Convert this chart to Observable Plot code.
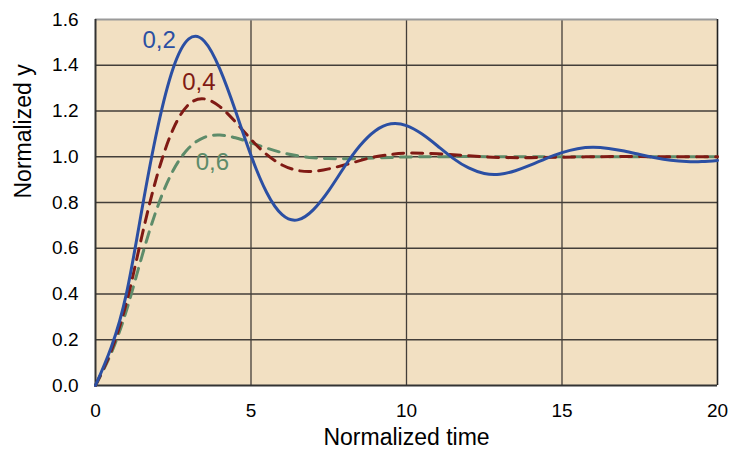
<!DOCTYPE html>
<html>
<head>
<meta charset="utf-8">
<script src="https://cdn.jsdelivr.net/npm/d3@7"></script>
<script src="https://cdn.jsdelivr.net/npm/@observablehq/plot@0.6"></script>
<style>
  html, body { margin: 0; padding: 0; background: #ffffff; }
  #chart { width: 729px; height: 450px; }
</style>
</head>
<body>
<div id="chart"></div>
<script>
// Time samples
const tFine = [0, 0.5, 1, 1.5, 2, 2.5, 3, 3.5, 4, 4.5, 5, 5.5, 6, 6.5, 7, 7.5, 8, 8.5, 9, 9.5, 10,
               10.5, 11, 11.5, 12, 12.5, 13, 13.5, 14, 14.5, 15, 15.5, 16, 16.5, 17, 17.5, 18, 18.5, 19, 19.5, 20];
const tCoarse = [0, 0.5, 1, 1.5, 2, 2.5, 3, 3.5, 4, 4.5, 5, 5.5, 6, 6.5, 7, 7.5, 8, 8.5, 9, 9.5, 10,
                 11, 12, 13, 14, 15, 16, 17, 18, 19, 20];

// Damping 0,2 (solid blue)
const y02 = [0, 0.165, 0.405, 0.775, 1.128, 1.388, 1.515, 1.505, 1.383, 1.201, 1.006,
             0.845, 0.747, 0.724, 0.768, 0.852, 0.955, 1.048, 1.114, 1.144, 1.136,
             1.099, 1.047, 0.993, 0.951, 0.927, 0.924, 0.939, 0.964, 0.993, 1.018,
             1.035, 1.041, 1.036, 1.025, 1.010, 0.996, 0.985, 0.979, 0.979, 0.984];
// Damping 0,4 (dashed dark red)
const y04 = [0, 0.150, 0.365, 0.658, 0.927, 1.122, 1.229, 1.253, 1.219, 1.152, 1.076,
             1.010, 0.964, 0.940, 0.936, 0.947, 0.964, 0.983, 1.000, 1.010, 1.016,
             1.013, 1.004, 0.997, 0.996, 0.998, 1.000, 1.001, 1.000, 1.000, 1.000];
// Damping 0,6 (dashed green)
const y06 = [0, 0.140, 0.330, 0.568, 0.783, 0.941, 1.038, 1.085, 1.095, 1.083, 1.061,
             1.038, 1.018, 1.004, 0.996, 0.992, 0.991, 0.992, 0.995, 0.997, 0.999,
             1.000, 1.001, 1.000, 1.000, 1.000, 1.000, 1.000, 1.000, 1.000, 1.000];

const xTicks = [0, 5, 10, 15, 20];
const yTicks = [0, 0.2, 0.4, 0.6, 0.8, 1.0, 1.2, 1.4, 1.6];

const seriesLabels = ["0,2", "0,4", "0,6"];
const labelX = [1.51, 2.79, 3.22];
const labelY = [1.475, 1.291, 0.943];
const colors = ["#2b4fa3", "#801a14", "#5e8c6a"];

const d02 = tFine.map((t, i) => ({t, y: y02[i]}));
const d04 = tCoarse.map((t, i) => ({t, y: y04[i]}));
const d06 = tCoarse.map((t, i) => ({t, y: y06[i]}));
const labels = seriesLabels.map((s, i) => ({s, x: labelX[i], y: labelY[i], c: colors[i]}));

const font = "'Liberation Sans', Arial, Helvetica, sans-serif";

const chart = Plot.plot({
  width: 729,
  height: 450,
  marginLeft: 95,
  marginRight: 12,
  marginTop: 19,
  marginBottom: 65,
  style: {background: "#ffffff", fontFamily: font, fontSize: "19px", color: "#000"},
  x: {domain: [0, 20]},
  y: {domain: [0, 1.6]},
  marks: [
    Plot.frame({fill: "#f2e0c2", stroke: "none"}),
    Plot.gridX([5, 10, 15], {stroke: "#433e39", strokeOpacity: 1, strokeWidth: 1.3}),
    Plot.gridY([0.2, 0.4, 0.6, 0.8, 1.0, 1.2, 1.4], {stroke: "#433e39", strokeOpacity: 1, strokeWidth: 1.3}),
    Plot.ruleY([1.6], {stroke: "#9a9a9a", strokeWidth: 2}),
    Plot.ruleX([20], {stroke: "#222", strokeWidth: 1.6}),
    Plot.ruleX([0], {stroke: "#333", strokeWidth: 2}),
    Plot.ruleY([0], {stroke: "#333", strokeWidth: 2}),
    Plot.line(d06, {x: "t", y: "y", stroke: colors[2], strokeWidth: 3, strokeDasharray: "11,8", curve: "natural"}),
    Plot.line(d04, {x: "t", y: "y", stroke: colors[1], strokeWidth: 3, strokeDasharray: "11,8", curve: "natural"}),
    Plot.line(d02, {x: "t", y: "y", stroke: colors[0], strokeWidth: 3, curve: "natural"}),
    Plot.text(labels, {x: "x", y: "y", text: "s", fill: "c", textAnchor: "start", lineAnchor: "bottom", fontSize: 24}),
    Plot.axisX(xTicks, {tickSize: 0, tickPadding: 18, fontSize: 19, label: null}),
    Plot.axisY(yTicks, {tickSize: 0, tickPadding: 17, fontSize: 19, label: null, tickFormat: d => d.toFixed(1)}),
    Plot.text(["Normalized time"], {text: d => d, frameAnchor: "bottom", lineAnchor: "bottom", dy: 59, fontSize: 23, fill: "#000"}),
    Plot.text(["Normalized y"], {text: d => d, frameAnchor: "left", lineAnchor: "bottom", rotate: -90, dx: -65, dy: -4, fontSize: 23, fill: "#000"})
  ]
});

document.getElementById("chart").appendChild(chart);
</script>
</body>
</html>
